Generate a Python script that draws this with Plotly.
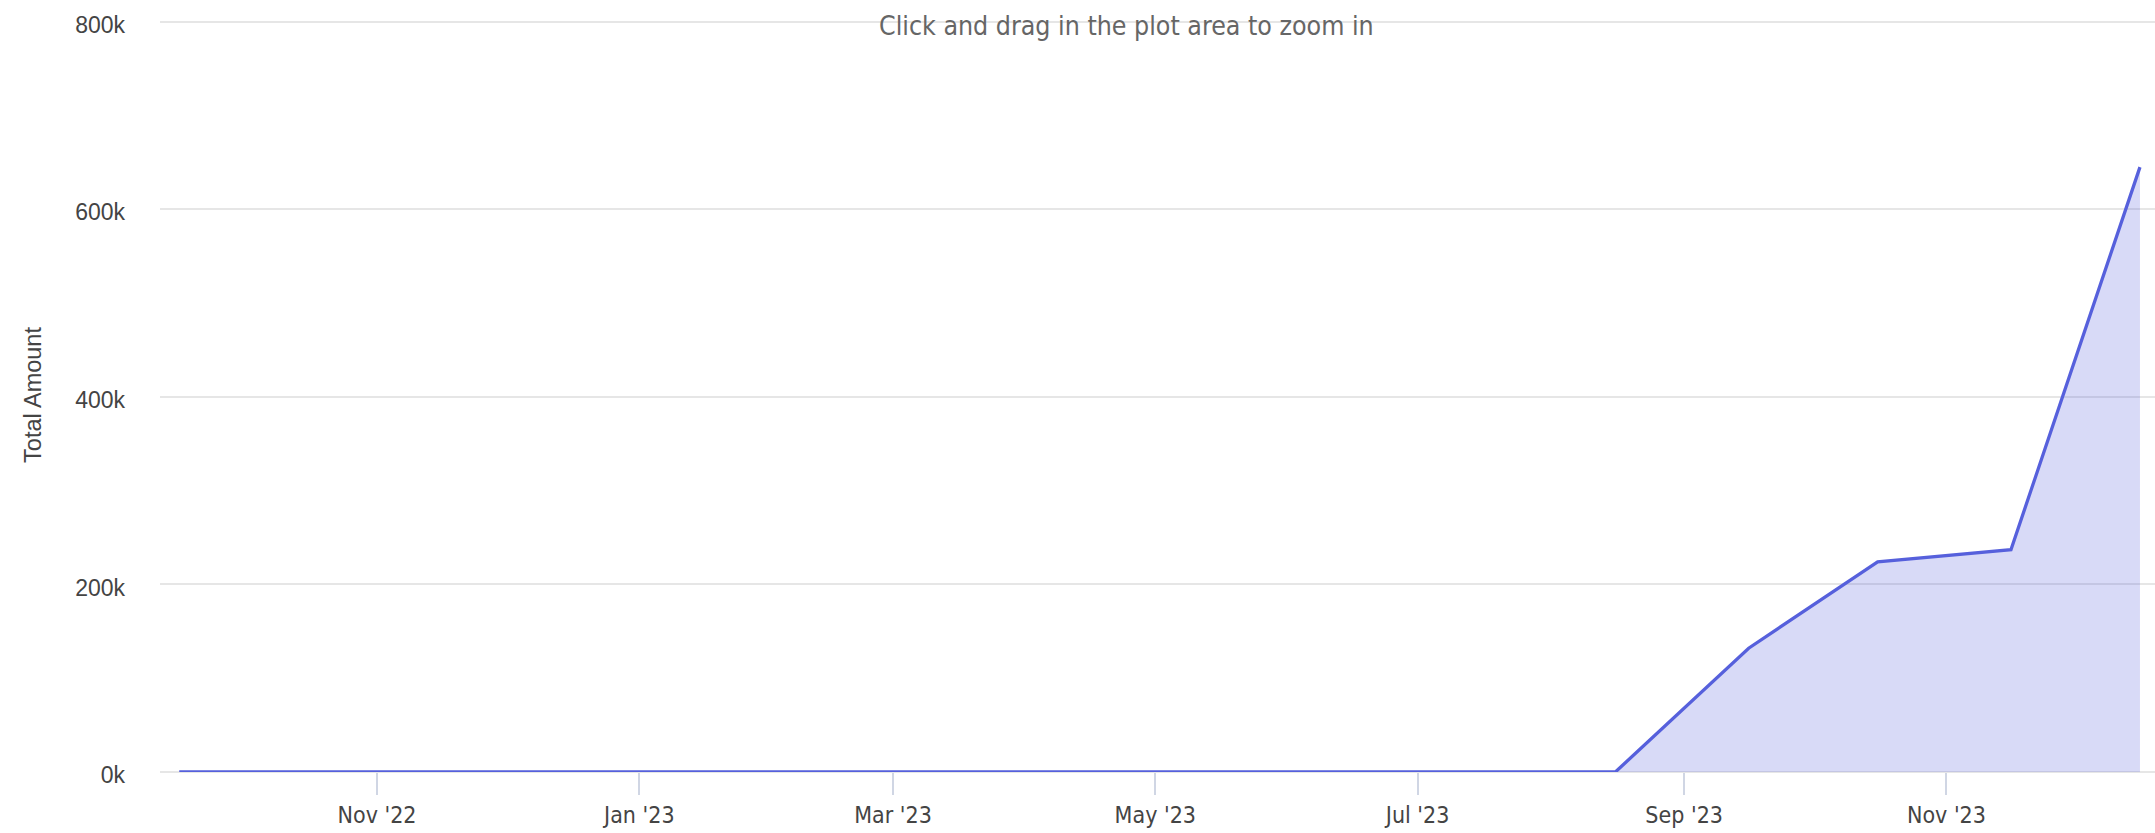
import plotly.graph_objects as go

# Data: monthly totals (mid-month points)
dates = [
    "2022-09-16", "2022-10-16", "2022-11-16", "2022-12-16",
    "2023-01-16", "2023-02-16", "2023-03-16", "2023-04-16",
    "2023-05-16", "2023-06-16", "2023-07-16", "2023-08-16",
    "2023-09-16", "2023-10-16", "2023-11-16", "2023-12-16",
]
total_amount = [
    0, 0, 0, 0,
    0, 0, 0, 0,
    0, 0, 0, 0,
    132000, 224000, 237000, 645000,
]
y_ticks = [0, 200000, 400000, 600000, 800000]
y_tick_labels = ["0k", "200k", "400k", "600k", "800k"]

x_range = ["2022-09-11 12:40", "2023-12-19 12:00"]
y_range = [0, 804000]

W, H = 2155, 833
ML, MR, MT, MB = 160, 0, 18, 61

fig = go.Figure()
fig.add_trace(go.Scatter(
    x=dates,
    y=total_amount,
    mode="lines",
    line=dict(color="#5660DC", width=3.3),
    fill="tozeroy",
    fillcolor="rgba(86,96,220,0.23)",
    hoverinfo="x+y",
    showlegend=False,
))

# zoom hint text centred at pixel x ~1126
hint_x = (1126 - ML) / (W - ML - MR)
fig.add_annotation(
    text="Click and drag in the plot area to zoom in",
    xref="paper", yref="paper",
    x=hint_x, y=1, yshift=MT - 8,
    xanchor="center", yanchor="top",
    showarrow=False,
    font=dict(family="DejaVu Sans Condensed", size=26.5, color="#666666"),
)

fig.update_layout(
    width=W, height=H,
    margin=dict(l=ML, r=MR, t=MT, b=MB, autoexpand=False),
    paper_bgcolor="white",
    plot_bgcolor="white",
    xaxis=dict(
        type="date",
        range=x_range,
        showgrid=False,
        zeroline=False,
        showline=False,
        ticks="outside",
        ticklen=22,
        tickwidth=2,
        tickcolor="#d0d6e4",
        dtick="M2",
        tick0="2022-11-01",
        tickformat="%b '%y",
        tickfont=dict(family="DejaVu Sans Condensed", size=23, color="#444444"),
        automargin=False,
    ),
    yaxis=dict(
        range=y_range,
        tickvals=y_ticks,
        ticktext=y_tick_labels,
        showgrid=True,
        gridcolor="#e6e6e6",
        gridwidth=2,
        zeroline=True,
        zerolinecolor="#e6e6e6",
        zerolinewidth=2,
        showline=False,
        ticks="",
        ticklabelstandoff=34,
        ticklabelshift=3,
        tickfont=dict(family="Liberation Sans", size=23, color="#444444"),
        title=dict(
            text="Total Amount",
            font=dict(family="Liberation Sans", size=23.5, color="#444444"),
            standoff=26,
        ),
        automargin=False,
    ),
)

fig.write_html("out.html")
